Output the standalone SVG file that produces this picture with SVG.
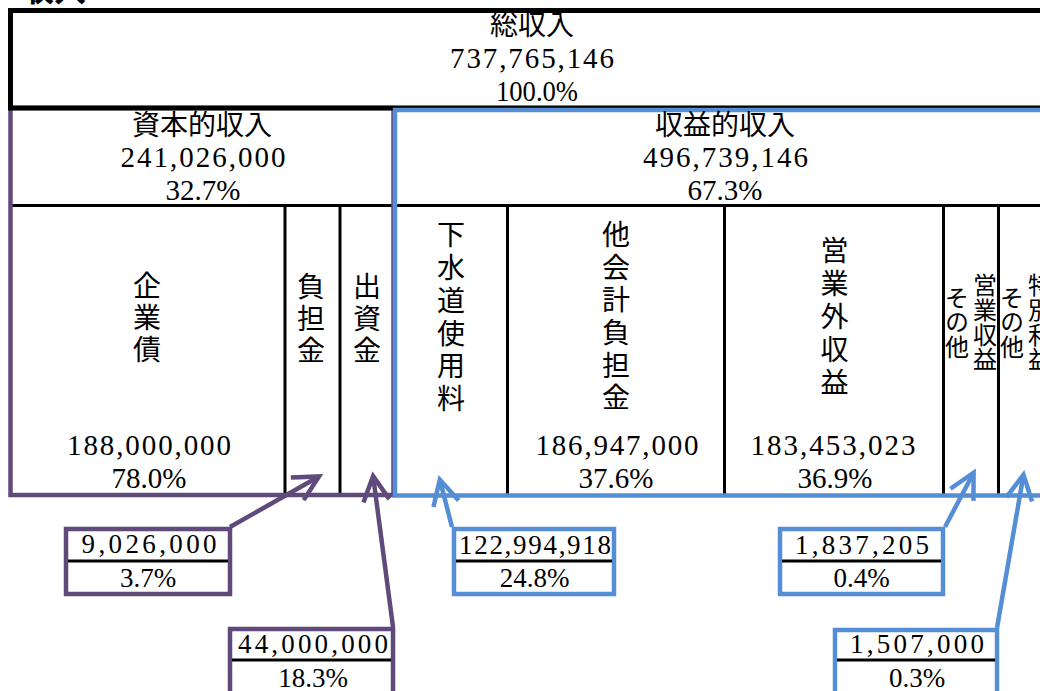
<svg xmlns="http://www.w3.org/2000/svg" width="1040" height="691" viewBox="0 0 1040 691">
<defs>
<style>
.t{font-family:"Noto Sans CJK JP",sans-serif;font-size:32px;font-weight:bold;fill:#000}
.j{font-family:"Noto Sans CJK JP",sans-serif;font-size:28px;fill:#000;text-anchor:middle}
.v{font-family:"Noto Sans CJK JP",sans-serif;font-size:28px;fill:#000;writing-mode:vertical-rl;text-orientation:upright}
.vs{font-family:"Noto Sans CJK JP",sans-serif;font-size:24px;fill:#000;writing-mode:vertical-rl;text-orientation:upright;letter-spacing:0.7px}
.n{font-family:"Liberation Serif",serif;font-size:29px;fill:#000;text-anchor:middle}
.nc{font-family:"Liberation Serif",serif;font-size:27px;fill:#000;text-anchor:middle}
.blk{fill:none;stroke:#000;stroke-width:5}
.pur{fill:#fff;stroke:#604A7B;stroke-width:4.5}
.blu{fill:#fff;stroke:#558ED5;stroke-width:4.5}
.frp{fill:none;stroke:#604A7B;stroke-width:4.5}
.frb{fill:none;stroke:#558ED5;stroke-width:4.5}
.dv{stroke:#000;stroke-width:3;fill:none}
.ap{fill:none;stroke:#604A7B;stroke-width:4.5;marker-end:url(#mp)}
.ab{fill:none;stroke:#558ED5;stroke-width:4.5;marker-end:url(#mb)}
</style>
<marker id="mp" markerUnits="userSpaceOnUse" viewBox="-30 -18 36 36" refX="0" refY="0" markerWidth="36" markerHeight="36" orient="auto" overflow="visible">
<path d="M-25,-13 L0,0 L-25,13" fill="none" stroke="#604A7B" stroke-width="4.5"/>
</marker>
<marker id="mb" markerUnits="userSpaceOnUse" viewBox="-30 -18 36 36" refX="0" refY="0" markerWidth="36" markerHeight="36" orient="auto" overflow="visible">
<path d="M-25,-13 L0,0 L-25,13" fill="none" stroke="#558ED5" stroke-width="4.5"/>
</marker>
</defs>
<rect x="0" y="0" width="1040" height="691" fill="#fff"/>

<g id="title"><text class="t" x="22" y="1">収入</text></g>

<g id="grid">
<line class="dv" x1="12" y1="205.5" x2="1040" y2="205.5"/>
<line class="dv" x1="285" y1="206" x2="285" y2="494"/>
<line class="dv" x1="340" y1="206" x2="340" y2="494"/>
<line class="dv" x1="507.5" y1="206" x2="507.5" y2="494"/>
<line class="dv" x1="724.5" y1="206" x2="724.5" y2="494"/>
<line class="dv" x1="943.5" y1="206" x2="943.5" y2="494"/>
<line class="dv" x1="998.5" y1="206" x2="998.5" y2="494"/>
</g>

<g id="capital">
<rect class="frp" x="10.5" y="108" width="383" height="387"/>
<text class="j" x="202" y="135">資本的収入</text>
<text class="n" x="203" y="167" textLength="165" lengthAdjust="spacing">241,026,000</text>
<text class="n" x="203" y="200">32.7%</text>
</g>

<g id="total">
<rect class="blk" x="10.5" y="10.5" width="1100" height="97.5"/>
<text class="j" x="532" y="35">総収入</text>
<text class="n" x="532" y="68" textLength="164" lengthAdjust="spacing">737,765,146</text>
<text class="n" x="537" y="101" textLength="82" lengthAdjust="spacingAndGlyphs">100.0%</text>
</g>

<g id="revenue">
<rect class="frb" x="395" y="110" width="700" height="385.5"/>
<text class="j" x="725" y="135">収益的収入</text>
<text class="n" x="725.5" y="167" textLength="165" lengthAdjust="spacing">496,739,146</text>
<text class="n" x="725" y="200">67.3%</text>
</g>

<g id="kigyousai">
<text class="v" x="147" y="271" style="letter-spacing:4px">企業債</text>
<text class="n" x="149" y="455" textLength="164" lengthAdjust="spacing">188,000,000</text>
<text class="n" x="149" y="488">78.0%</text>
</g>

<g id="futankin">
<text class="v" x="311" y="272" style="letter-spacing:4px">負担金</text>
</g>

<g id="shusshikin">
<text class="v" x="367" y="272" style="letter-spacing:4px">出資金</text>
</g>

<g id="gesuidou">
<text class="v" x="451" y="220.5" style="letter-spacing:4.8px">下水道使用料</text>
</g>

<g id="takaikei">
<text class="v" x="616" y="220.5" style="letter-spacing:4.6px">他会計負担金</text>
<text class="n" x="617" y="455" textLength="163" lengthAdjust="spacing">186,947,000</text>
<text class="n" x="616" y="488">37.6%</text>
</g>

<g id="eigyougai">
<text class="v" x="834.5" y="236" style="letter-spacing:5px">営業外収益</text>
<text class="n" x="833" y="455" textLength="165" lengthAdjust="spacing">183,453,023</text>
<text class="n" x="835" y="488">36.9%</text>
</g>

<g id="sonota-eigyou">
<text class="vs" x="985" y="273">営業収益</text>
<text class="vs" x="957" y="285.5">その他</text>
</g>

<g id="tokubetsu">
<text class="vs" x="1040" y="273">特別利益</text>
<text class="vs" x="1012" y="285.5">その他</text>
</g>

<g id="callout-futankin">
<rect class="pur" x="66" y="529" width="164" height="65"/>
<line class="dv" x1="68" y1="561" x2="228" y2="561"/>
<text class="nc" x="149" y="553" textLength="135" lengthAdjust="spacing">9,026,000</text>
<text class="nc" x="148" y="587">3.7%</text>
</g>

<g id="callout-shusshikin">
<rect class="pur" x="230" y="629" width="163" height="72"/>
<line class="dv" x1="232" y1="660" x2="391" y2="660"/>
<text class="nc" x="313" y="653" textLength="150" lengthAdjust="spacing">44,000,000</text>
<text class="nc" x="313" y="687">18.3%</text>
</g>

<g id="callout-gesuidou">
<rect class="blu" x="454" y="529" width="160" height="65"/>
<line class="dv" x1="456" y1="561" x2="612" y2="561"/>
<text class="nc" x="535" y="554" textLength="152" lengthAdjust="spacing">122,994,918</text>
<text class="nc" x="534.5" y="587">24.8%</text>
</g>

<g id="callout-sonota-eigyou">
<rect class="blu" x="780" y="529" width="163" height="65"/>
<line class="dv" x1="782" y1="561" x2="941" y2="561"/>
<text class="nc" x="862" y="554" textLength="134" lengthAdjust="spacing">1,837,205</text>
<text class="nc" x="861.5" y="587">0.4%</text>
</g>

<g id="callout-tokubetsu">
<rect class="blu" x="835" y="630" width="162" height="72"/>
<line class="dv" x1="837" y1="660" x2="995" y2="660"/>
<text class="nc" x="917" y="653" textLength="134" lengthAdjust="spacing">1,507,000</text>
<text class="nc" x="917" y="687">0.3%</text>
</g>

<g id="connectors">
<line class="ap" x1="230" y1="527" x2="319" y2="476.5"/>
<line class="ap" x1="393" y1="627" x2="373.1" y2="476"/>
<line class="ab" x1="452" y1="527" x2="439.8" y2="479.6"/>
<line class="ab" x1="945" y1="527" x2="973.6" y2="472.7"/>
<line class="ab" x1="997" y1="628" x2="1023.5" y2="474.7"/>
</g>
</svg>
